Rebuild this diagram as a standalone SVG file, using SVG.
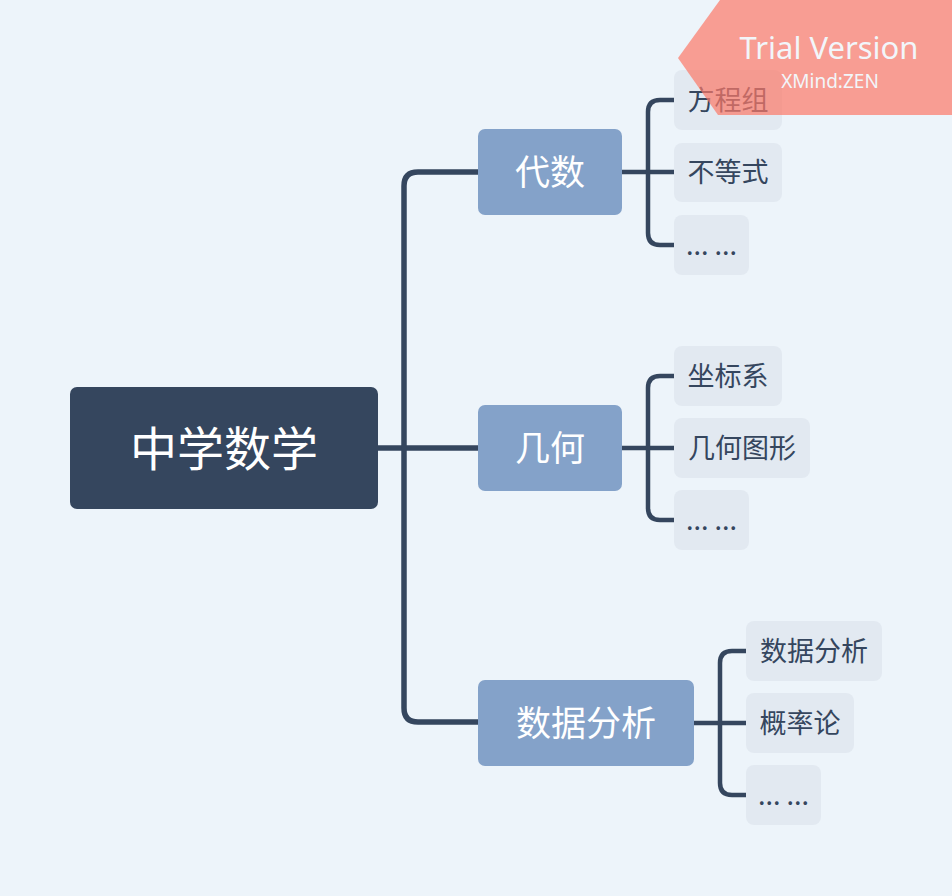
<svg xmlns="http://www.w3.org/2000/svg" width="952" height="896" viewBox="0 0 952 896">
  <style>
    text { font-family: "Noto Sans CJK SC", "Noto Sans", sans-serif; text-anchor: middle; }
    .root { fill: #35465E; }
    .rootT { fill: #FFFFFF; font-size: 47px; }
    .br { fill: #84A2C9; }
    .brT { fill: #FFFFFF; font-size: 35px; }
    .sub { fill: #E2E9F1; }
    .subT { fill: #35465E; font-size: 27px; }
    .trunk { fill: none; stroke: #35465E; stroke-width: 5.5; }
    .twig { fill: none; stroke: #35465E; stroke-width: 4.5; }
  </style>
  <rect width="952" height="896" fill="#EDF4FA"/>
  <g id="connectors">
    <path class="trunk" d="M378 448 H478"/>
    <path class="trunk" d="M478 172 H418 Q404 172 404 186 V708 Q404 722 418 722 H478"/>
    <path class="twig" d="M622 172 H674"/>
    <path class="twig" d="M674 100 H660 Q648 100 648 112 V233 Q648 245 660 245 H674"/>
    <path class="twig" d="M622 448 H674"/>
    <path class="twig" d="M674 376 H660 Q648 376 648 388 V508 Q648 520 660 520 H674"/>
    <path class="twig" d="M694 723 H746"/>
    <path class="twig" d="M746 651 H732 Q720 651 720 663 V783 Q720 795 732 795 H746"/>
  </g>
  <g id="root">
    <rect class="root" x="70" y="387" width="308" height="122" rx="7"/>
    <text class="rootT" x="224" y="466">中学数学</text>
  </g>
  <g id="algebra">
    <rect class="br" x="478" y="129" width="144" height="86" rx="7"/>
    <text class="brT" x="550" y="185">代数</text>
  </g>
  <g id="geometry">
    <rect class="br" x="478" y="405" width="144" height="86" rx="7"/>
    <text class="brT" x="550" y="461">几何</text>
  </g>
  <g id="data">
    <rect class="br" x="478" y="680" width="216" height="86" rx="7"/>
    <text class="brT" x="586" y="736">数据分析</text>
  </g>
  <g id="a1">
    <rect class="sub" x="674" y="70" width="108" height="60" rx="8"/>
    <text class="subT" x="728" y="110">方程组</text>
  </g>
  <g id="a2">
    <rect class="sub" x="674" y="143" width="108" height="59" rx="8"/>
    <text class="subT" x="728" y="182">不等式</text>
  </g>
  <g id="a3">
    <rect class="sub" x="674" y="215" width="75" height="60" rx="8"/>
    <text class="subT" x="711.5" y="255">... ...</text>
  </g>
  <g id="g1">
    <rect class="sub" x="674" y="346" width="108" height="60" rx="8"/>
    <text class="subT" x="728" y="386">坐标系</text>
  </g>
  <g id="g2">
    <rect class="sub" x="674" y="418" width="136" height="60" rx="8"/>
    <text class="subT" x="742" y="458">几何图形</text>
  </g>
  <g id="g3">
    <rect class="sub" x="674" y="490" width="75" height="60" rx="8"/>
    <text class="subT" x="711.5" y="530">... ...</text>
  </g>
  <g id="d1">
    <rect class="sub" x="746" y="621" width="136" height="60" rx="8"/>
    <text class="subT" x="814" y="661">数据分析</text>
  </g>
  <g id="d2">
    <rect class="sub" x="746" y="693" width="108" height="60" rx="8"/>
    <text class="subT" x="800" y="733">概率论</text>
  </g>
  <g id="d3">
    <rect class="sub" x="746" y="765" width="75" height="60" rx="8"/>
    <text class="subT" x="783.5" y="805">... ...</text>
  </g>
  <g id="banner">
    <polygon points="720,0 952,0 952,115 718,115 678,58" fill="#FC7866" fill-opacity="0.7"/>
    <text x="829" y="59" font-size="31" fill="#F2F6FA" style="font-family: 'Noto Sans', sans-serif;">Trial Version</text>
    <text x="830" y="88" font-size="19" fill="#F2F6FA" style="font-family: 'Noto Sans', sans-serif;">XMind:ZEN</text>
  </g>
</svg>
